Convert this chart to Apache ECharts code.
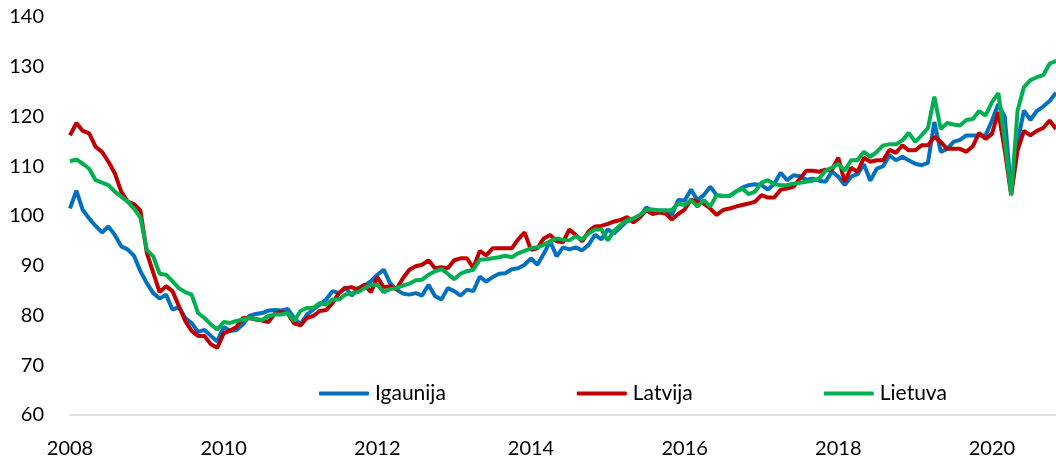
<!DOCTYPE html>
<html>
<head>
<meta charset="utf-8">
<script src="https://cdn.jsdelivr.net/npm/echarts@6/dist/echarts.min.js"></script>
<style>
  html, body { margin: 0; padding: 0; background: #fff; }
  #chart { width: 1056px; height: 459px; }
</style>
</head>
<body>
<div id="chart"></div>
<script>
// monthly index, Jan 2008 .. Nov 2020
const yearTicks = ['2008', '2010', '2012', '2014', '2016', '2018', '2020'];
const months = [];
for (let i = 0; i < 155; i++) {
  months.push((2008 + Math.floor(i / 12)) + '-' + String(i % 12 + 1).padStart(2, '0'));
}

const igaunija = [
  101.5, 105.1, 101.2, 99.5, 98.0, 96.7, 97.9, 96.2, 93.9, 93.3,
  92.0, 88.9, 86.5, 84.5, 83.4, 84.2, 81.2, 81.7, 79.5, 78.5,
  76.7, 77.1, 75.9, 74.8, 77.7, 76.9, 77.1, 78.2, 79.9, 80.3,
  80.5, 81.0, 81.1, 81.0, 81.3, 79.5, 78.2, 80.2, 81.2, 82.2,
  83.2, 84.9, 84.5, 85.7, 84.0, 85.5, 86.0, 86.9, 88.2, 89.2,
  86.5, 85.2, 84.4, 84.2, 84.5, 84.0, 86.2, 83.9, 83.2, 85.5,
  84.9, 84.0, 85.2, 84.9, 87.8, 86.8, 87.7, 88.4, 88.5, 89.3,
  89.5, 90.2, 91.5, 90.2, 92.4, 94.9, 91.9, 93.7, 93.3, 93.7,
  93.1, 94.2, 96.2, 95.3, 97.3, 96.5, 97.8, 99.0, 99.2, 99.9,
  101.7, 101.1, 101.1, 101.1, 100.2, 103.2, 103.1, 105.3, 103.2, 104.2,
  105.9, 104.2, 104.0, 104.0, 104.9, 105.7, 106.2, 106.4, 106.2, 105.3,
  106.5, 108.7, 107.2, 108.2, 108.0, 107.3, 107.5, 107.1, 106.9, 108.9,
  107.9, 106.2, 107.9, 108.4, 110.4, 107.1, 109.5, 110.0, 112.2, 111.2,
  111.9, 111.2, 110.5, 110.2, 110.7, 118.9, 112.9, 113.5, 114.9, 115.3,
  116.2, 116.2, 116.2, 116.2, 119.2, 122.5, 119.9, 105.0, 115.0, 121.2,
  119.3, 121.1, 122.0, 123.1, 124.8
];

const latvija = [
  116.2, 118.7, 117.1, 116.6, 113.9, 112.9, 110.9, 108.6, 104.9, 102.9,
  102.4, 101.1, 92.6, 88.6, 84.7, 85.9, 84.9, 81.9, 78.9, 76.9,
  75.9, 75.9, 74.2, 73.5, 76.4, 77.0, 77.7, 79.5, 79.5, 79.2,
  79.0, 78.7, 80.4, 80.7, 80.4, 78.4, 78.0, 79.5, 79.9, 80.9,
  81.1, 82.5, 84.5, 85.5, 85.7, 85.2, 86.2, 84.7, 87.7, 85.7,
  85.9, 85.3, 87.5, 89.2, 89.9, 90.2, 91.1, 89.5, 89.7, 89.5,
  91.1, 91.5, 91.5, 89.5, 93.0, 92.1, 93.5, 93.5, 93.5, 93.5,
  95.3, 96.7, 93.2, 93.5, 95.5, 96.2, 94.9, 94.7, 97.3, 96.2,
  94.9, 96.9, 97.9, 98.0, 98.4, 98.9, 99.2, 99.8, 98.7, 99.7,
  101.2, 100.4, 100.7, 100.5, 99.3, 100.4, 101.3, 103.3, 102.9, 102.5,
  101.5, 100.2, 101.2, 101.5, 101.9, 102.2, 102.5, 102.9, 104.2, 103.7,
  103.7, 105.3, 105.5, 105.9, 107.5, 109.1, 109.1, 108.9, 109.3, 109.3,
  111.7, 106.9, 109.7, 108.9, 111.7, 110.9, 111.2, 111.2, 113.3, 112.7,
  114.2, 113.2, 113.2, 114.2, 114.2, 115.9, 114.9, 113.5, 113.5, 113.5,
  112.9, 114.0, 116.7, 115.5, 116.5, 120.9, 113.2, 104.2, 113.2, 117.1,
  116.2, 117.1, 117.7, 119.2, 117.5
];

const lietuva = [
  111.0, 111.4, 110.5, 109.5, 107.2, 106.7, 106.2, 104.9, 103.9, 102.9,
  101.5, 99.7, 93.2, 91.9, 88.4, 88.2, 86.9, 85.5, 84.7, 84.2,
  80.5, 79.5, 78.2, 77.2, 78.7, 78.5, 78.9, 79.2, 79.5, 79.3,
  79.1, 79.9, 80.2, 80.2, 80.5, 78.9, 80.9, 81.5, 81.5, 82.5,
  82.2, 83.2, 83.2, 84.2, 84.5, 84.7, 85.5, 86.2, 86.2, 84.7,
  85.3, 85.5, 86.0, 86.4, 87.1, 87.2, 88.2, 88.9, 89.3, 88.4,
  87.3, 88.4, 88.9, 89.2, 91.2, 91.3, 91.5, 91.7, 92.0, 91.7,
  92.5, 93.0, 93.5, 93.7, 94.2, 94.9, 95.5, 95.2, 95.1, 95.9,
  95.3, 96.5, 97.3, 97.3, 95.1, 97.1, 98.2, 99.1, 99.5, 100.2,
  101.2, 101.3, 101.1, 101.1, 101.2, 102.5, 102.2, 103.2, 101.9, 103.2,
  101.9, 104.2, 104.0, 104.0, 104.9, 105.5, 104.4, 104.9, 106.7, 107.2,
  106.4, 106.2, 106.2, 106.5, 106.7, 106.9, 107.1, 107.5, 109.1, 109.7,
  110.5, 109.1, 111.2, 111.2, 112.9, 111.9, 112.9, 114.2, 114.4, 114.4,
  115.2, 116.7, 114.9, 116.2, 117.7, 124.0, 117.5, 118.7, 118.4, 118.2,
  119.3, 119.5, 121.1, 120.2, 122.9, 124.7, 115.2, 104.2, 121.2, 125.9,
  127.3, 127.9, 128.3, 130.6, 131.2
];

const chart = echarts.init(document.getElementById('chart'), null, { renderer: 'canvas' });

const font = 'Lato';

function lineSeries(name, data, color) {
  return {
    name: name,
    type: 'line',
    data: data,
    symbol: 'none',
    smooth: false,
    lineStyle: { width: 4, color: color },
    itemStyle: { color: color }
  };
}

const option = {
  animation: false,
  grid: { left: 70, right: -4, top: 17, bottom: 43 },
  legend: {
    left: 314,
    top: 378,
    icon: 'roundRect',
    itemWidth: 50,
    itemHeight: 4,
    itemGap: 131,
    textStyle: { fontFamily: font, fontSize: 21, color: '#000', padding: [0, 0, 0, 1] },
    data: ['Igaunija', 'Latvija', 'Lietuva']
  },
  xAxis: {
    type: 'category',
    data: months,
    boundaryGap: false,
    axisLine: { lineStyle: { color: '#d9d9d9', width: 1.5 } },
    axisTick: { show: false },
    axisLabel: {
      interval: function (index) { return index % 24 === 0; },
      formatter: function (value) {
        const y = value.slice(0, 4);
        return yearTicks.indexOf(y) >= 0 ? y : '';
      },
      fontFamily: font,
      fontSize: 20,
      color: '#000',
      margin: 24
    }
  },
  yAxis: {
    type: 'value',
    min: 60,
    max: 140,
    interval: 10,
    axisLine: { show: false },
    axisTick: { show: false },
    splitLine: { show: false },
    axisLabel: { fontFamily: font, fontSize: 20, color: '#000', margin: 26 }
  },
  series: [
    lineSeries('Igaunija', igaunija, '#0070C0'),
    lineSeries('Latvija', latvija, '#C00000'),
    lineSeries('Lietuva', lietuva, '#00B050')
  ]
};

chart.setOption(option);
</script>
</body>
</html>
